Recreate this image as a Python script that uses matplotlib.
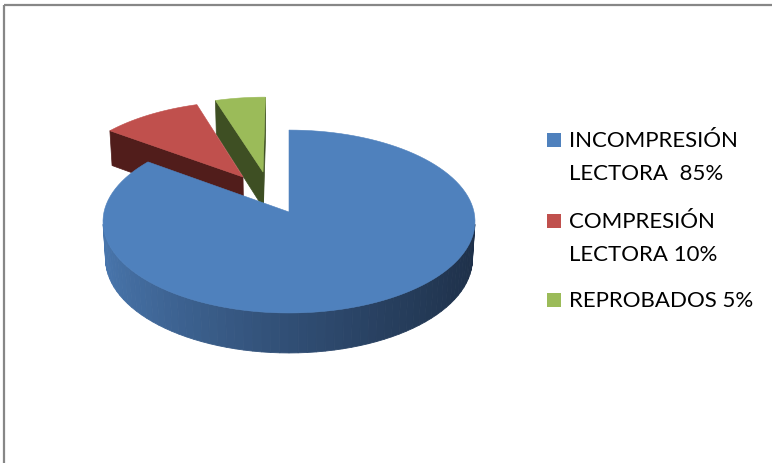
import matplotlib.pyplot as plt
import numpy as np
from matplotlib.patches import Polygon, Rectangle


# data
labels = ["INCOMPRESIÓN\nLECTORA  85%", "COMPRESIÓN\nLECTORA 10%", "REPROBADOS 5%"]
values = [85, 10, 5]

# style
top_colors = ["#4f81bd", "#c0504d", "#9bbb59"]
side_light = ["#4a78b0", "#5a2220", "#44562a"]
side_dark = ["#1e3049", "#4a1a18", "#3a4a20"]
radial_colors = ["#2a4468", "#511d1b", "#3e4f23"]
# exploded slices, offset of the slice centre in disc units (u, v)
explode = [(0.0, 0.0), (-0.259, 0.403), (-0.147, 0.463)]

W, H = 772, 463
CX, CY = 289, 212
RX = 185.0
SIN_T, COS_T = 0.489, 0.872
DIST = 8.38
F = RX * DIST
THICK = 0.234
CAM = np.array([0.0, DIST * SIN_T, -DIST * COS_T])  # (u, h, v)


def project(u, v, h):
    depth = DIST + v * COS_T - h * SIN_T
    x = CX + F * u / depth
    y = CY - F * (h * COS_T + v * SIN_T) / depth
    return x, y


def visible(pu, pv, ph, nu, nv):
    rel = CAM - np.array([pu, ph, pv])
    return rel[0] * nu + rel[2] * nv > 0


def mix(c1, c2, t):
    a = np.array(plt.matplotlib.colors.to_rgb(c1))
    b = np.array(plt.matplotlib.colors.to_rgb(c2))
    return tuple(a * (1 - t) + b * t)


def draw_slice(ax, a0, a1, off, i):
    ou, ov = off
    thetas = np.radians(np.linspace(a0, a1, 120))

    # radial faces
    for ang, sign in ((a0, -1), (a1, 1)):
        t = np.radians(ang)
        nu, nv = sign * -np.sin(t), sign * np.cos(t)
        eu, ev = ou + np.cos(t), ov + np.sin(t)
        mu, mv = (ou + eu) / 2, (ov + ev) / 2
        if visible(mu, mv, -THICK / 2, nu, nv):
            pts = [project(ou, ov, 0), project(eu, ev, 0),
                   project(eu, ev, -THICK), project(ou, ov, -THICK)]
            ax.add_patch(Polygon(pts, closed=True, facecolor=radial_colors[i],
                                 edgecolor=radial_colors[i], lw=0.5))

    # outer curved side
    for t0, t1 in zip(thetas[:-1], thetas[1:]):
        tm = (t0 + t1) / 2
        pu, pv = ou + np.cos(tm), ov + np.sin(tm)
        if not visible(pu, pv, -THICK / 2, np.cos(tm), np.sin(tm)):
            continue
        shade = ((np.cos(tm) + 1) / 2) ** 0.8
        col = mix(side_light[i], side_dark[i], shade)
        pts = [project(ou + np.cos(t0), ov + np.sin(t0), 0),
               project(ou + np.cos(t1), ov + np.sin(t1), 0),
               project(ou + np.cos(t1), ov + np.sin(t1), -THICK),
               project(ou + np.cos(t0), ov + np.sin(t0), -THICK)]
        ax.add_patch(Polygon(pts, closed=True, facecolor=col, edgecolor=col, lw=0.6))

    # top face
    pts = [project(ou, ov, 0)]
    pts += [project(ou + np.cos(t), ov + np.sin(t), 0) for t in thetas]
    ax.add_patch(Polygon(pts, closed=True, facecolor=top_colors[i],
                         edgecolor=top_colors[i], lw=0.4))


def main():
    fig = plt.figure(figsize=(W / 100, H / 100), dpi=100)
    ax = fig.add_axes([0, 0, 1, 1])
    ax.set_xlim(0, W)
    ax.set_ylim(H, 0)
    ax.axis("off")

    # chart border (only top and left edges fall inside the picture)
    ax.plot([4, W], [5, 5], color="#878787", lw=1.6, solid_capstyle="butt")
    ax.plot([4, 4], [5, H], color="#878787", lw=1.6, solid_capstyle="butt")

    total = sum(values)
    cum = np.cumsum([0] + values)
    spans = []
    for i in range(len(values)):
        a_start = 90 - cum[i + 1] / total * 360
        a_end = 90 - cum[i] / total * 360
        spans.append((a_start, a_end))

    # back to front
    for i in [2, 1, 0]:
        draw_slice(ax, spans[i][0], spans[i][1], explode[i], i)

    # legend
    first_baselines = [147, 228, 307]
    for i, label in enumerate(labels):
        base = first_baselines[i]
        ax.add_patch(Rectangle((547, base - 14), 14, 14, facecolor=top_colors[i],
                               edgecolor="none"))
        for j, line in enumerate(label.split("\n")):
            ax.text(569, base + j * 33, line, fontsize=16, family="Lato",
                    va="baseline", ha="left", color="black")

    fig.savefig("out.png", dpi=100)


if __name__ == "__main__":
    main()
